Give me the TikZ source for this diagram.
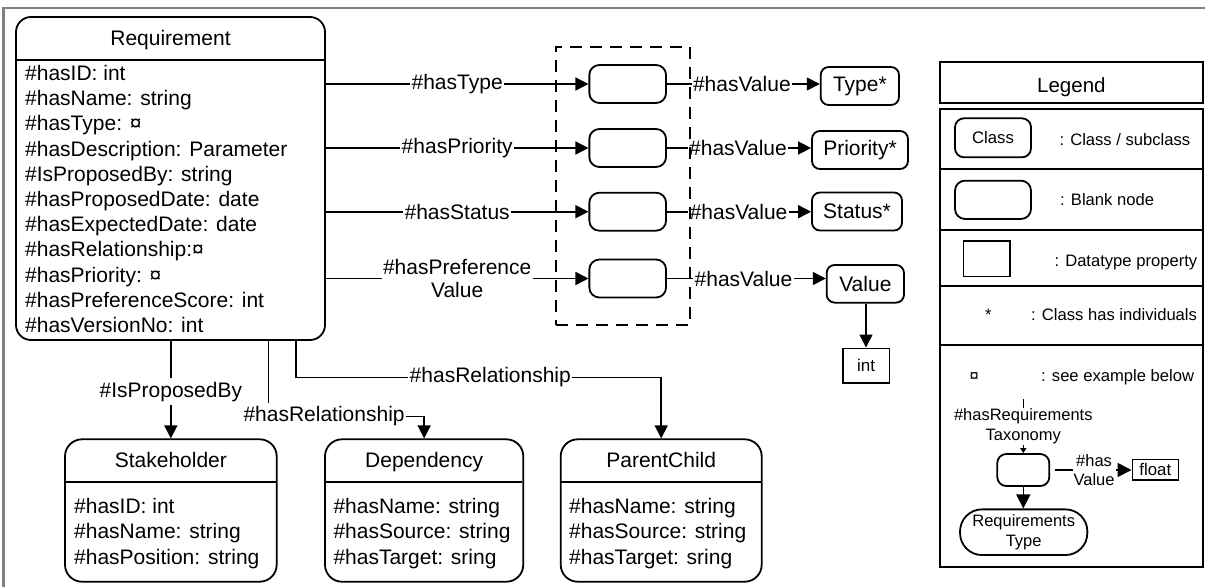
\documentclass[tikz,border=0pt]{standalone}
\usepackage{fontspec}
\setmainfont{Liberation Sans}
\usetikzlibrary{arrows.meta}
\newcommand{\myfs}[2]{\fontsize{#1pt}{#2pt}\selectfont}
\definecolor{framegray}{RGB}{128,128,128}
\tikzset{
 bx/.style={draw, line width=1.8pt, inner sep=0pt},
 cls/.style={bx, rounded corners=15pt},
 blank/.style={bx, rounded corners=10pt, minimum width=76.7pt, minimum height=38pt},
 valbox/.style={bx, rounded corners=8pt, minimum height=38pt, font=\myfs{21}{25}},
 dt/.style={bx, line width=1.6pt},
 sep/.style={line width=1.8pt},
 conn/.style={line width=1.6pt},
 arr/.style={conn, -{Triangle[length=13pt,width=13pt]}},
 lbl/.style={fill=white, inner xsep=1.5pt, inner ysep=4pt, font=\myfs{21}{23.5}, align=center},
 attr/.style={inner sep=0pt, anchor=base west, font=\myfs{21}{25}},
 ttl/.style={inner sep=0pt, anchor=base, font=\myfs{21}{25}},
 leg/.style={inner sep=0pt, anchor=base west, font=\myfs{16.6}{20}},
 sm/.style={fill=white, inner xsep=1pt, inner ysep=1pt, font=\myfs{16.5}{19.5}, align=center},
}
\begin{document}
\begin{tikzpicture}[x=1pt,y=-1pt]
\useasboundingbox (0,0) rectangle (1205,587);
\draw[framegray, line width=2.6pt] (3.7,587) -- (3.7,8) -- (1205,8);

% Requirement class
\node[cls, minimum width=309pt, minimum height=323pt] (req) at (170.5,178.5) {};
\draw[sep] (req.north west) ++(0,44) -- ++(309,0);
\node[ttl] (reqT) at (170.5,45.5) {Requirement};
\foreach \txt [count=\i] in {\#hasID: int, \#hasName: string, \#hasType: ¤,
  \#hasDescription: Parameter, \#IsProposedBy: string, \#hasProposedDate: date,
  \#hasExpectedDate: date, \#hasRelationship:¤, \#hasPriority: ¤,
  \#hasPreferenceScore: int, \#hasVersionNo: int}
  \node[attr] (ra\i) at (25,55.3+25.2*\i) {\txt};

% blank nodes
\node[blank] (b1) at (627.7,84) {};
\node[blank] (b2) at (627.7,148) {};
\node[blank] (b3) at (627.7,211.7) {};
\node[blank] (b4) at (627.7,278.5) {};

% value classes
\node[valbox, minimum width=78.3pt] (ty) at (859.85,86) {Type*};
\node[valbox, minimum width=96pt] (pr) at (860,150) {Priority*};
\node[valbox, minimum width=90pt] (st) at (857,211.5) {Status*};
\node[valbox, minimum width=77.3pt, minimum height=37.7pt] (va) at (865.35,283.8) {Value};
\node[dt, minimum width=46.6pt, minimum height=34.4pt, font=\myfs{17}{20}] (in) at (866,365.5) {int};

% connectors requirement -> blank
\draw[arr] (req.east |- b1) -- node[lbl]{\#hasType} (b1);
\draw[arr] (req.east |- b2) -- node[lbl]{\#hasPriority} (b2);
\draw[arr] (req.east |- b3) -- node[lbl]{\#hasStatus} (b3);
\draw[arr] (req.east |- b4) -- node[lbl]{\#hasPreference\\Value} (b4);

% blank -> value classes
\draw[arr] (b1) -- node[lbl,pos=0.49]{\#hasValue} (b1 -| ty.west);
\draw[arr] (b2) -- node[lbl,pos=0.493]{\#hasValue} (b2 -| pr.west);
\draw[arr] (b3) -- node[lbl,pos=0.497]{\#hasValue} (b3 -| st.west);
\draw[arr] (b4) -- node[lbl,pos=0.482]{\#hasValue} (b4 -| va.west);
\draw[arr] (va.south -| in.north) -- (in.north);

% dashed group
\node[draw, line width=2pt, dash pattern=on 12pt off 8pt, inner sep=0pt,
      minimum width=134pt, minimum height=278.3pt] (grp) at (623,185.85) {};

% bottom classes
\node[cls, rounded corners=17pt, minimum width=211.7pt, minimum height=142.4pt] (sh) at (170.85,510.5) {};
\draw[sep] (sh.north west) ++(0,43.4) -- ++(211.7,0);
\node[ttl] (shT) at (170.85,467.5) {Stakeholder};
\node[attr] (sh1) at (74,513.5) {\#hasID: int};
\node[attr] (sh2) at (74,538.8) {\#hasName: string};
\node[attr] (sh3) at (74,564.1) {\#hasPosition: string};

\node[cls, rounded corners=17pt, minimum width=198.3pt, minimum height=142.4pt] (dep) at (424.15,510.5) {};
\draw[sep] (dep.north west) ++(0,43.4) -- ++(198.3,0);
\node[ttl] (depT) at (424.15,467.5) {Dependency};
\node[attr] (dp1) at (333.3,513.5) {\#hasName: string};
\node[attr] (dp2) at (333.3,538.8) {\#hasSource: string};
\node[attr] (dp3) at (333.3,564.1) {\#hasTarget: sring};

\node[cls, rounded corners=17pt, minimum width=201pt, minimum height=142.4pt] (pc) at (661.2,510.5) {};
\draw[sep] (pc.north west) ++(0,43.4) -- ++(201,0);
\node[ttl] (pcT) at (661.2,467.5) {ParentChild};
\node[attr] (pc1) at (569,513.5) {\#hasName: string};
\node[attr] (pc2) at (569,538.8) {\#hasSource: string};
\node[attr] (pc3) at (569,564.1) {\#hasTarget: sring};

% bottom connectors
\draw[arr] (req.south -| sh.north) -- node[lbl,pos=0.52]{\#IsProposedBy} (sh.north);
\path (dep.north) ++(0,-22) coordinate (c2);
\draw[arr] ([xshift=97.8pt]req.south) |- node[lbl,pos=0.679]{\#hasRelationship} (c2) -- (dep.north);
\path (pc.north) ++(0,-61) coordinate (c3);
\draw[arr] ([xshift=125.5pt]req.south) |- node[lbl,pos=0.766]{\#hasRelationship} (c3) -- (pc.north);

% legend
\node[bx, minimum width=262.7pt, minimum height=41pt] (lgT) at (1071.35,82.8) {};
\node[ttl, font=\myfs{20.5}{24}] (lgTx) at (1071.35,92.3) {Legend};
\node[bx, minimum width=262.7pt, minimum height=457.4pt] (lg) at (1071.35,338) {};
\foreach \d in {60.7,121.4,177.4,236.7}
  \draw[sep] (lg.north west) ++(0,\d) -- ++(262.7,0);

\node[cls, rounded corners=9pt, minimum width=76pt, minimum height=39pt, font=\myfs{16.7}{20}] (lgC) at (993,137.8) {Class};
\node[leg] (lgCt) at (1059.3,145.2) {: Class / subclass};
\node[blank, minimum width=76pt, minimum height=38.3pt] (lgB) at (993,199.8) {};
\node[leg] (lgBt) at (1060,205.3) {: Blank node};
\node[dt, minimum width=46.7pt, minimum height=35.7pt] (lgD) at (986.7,258.8) {};
\node[leg] (lgDt) at (1054.3,266) {: Datatype property};
\node[leg, anchor=base] (lgS) at (988.3,320.3) {*};
\node[leg] (lgSt) at (1031,320.3) {: Class has individuals};
\node[leg, anchor=base] (lgX) at (974.3,381.6) {¤};
\node[leg] (lgXt) at (1041,381.6) {: see example below};

% legend example
\node[blank, rounded corners=9pt, minimum width=52pt, minimum height=32pt] (lb) at (1023.3,470) {};
\node[dt, minimum width=46pt, minimum height=20.7pt, font=\myfs{16.8}{20}] (fl) at (1155.3,469.7) {float};
\node[cls, rounded corners=22pt, minimum width=127.3pt, minimum height=45.7pt, align=center, font=\myfs{16.5}{20}] (rt) at (1023.7,532.2) {Requirements\\Type};
\path (lb.north) ++(0,-54) coordinate (tk);
\draw[conn, line width=1.4pt, -{Triangle[length=5pt,width=6pt]}] (tk) -- node[sm]{\#hasRequirements\\Taxonomy} (lb.north);
\draw[conn, -{Triangle[length=14pt,width=14pt]}, shorten <=5pt] (lb) -- node[sm,pos=0.54]{\#has\\Value} (lb -| fl.west);
\draw[conn, -{Triangle[length=14pt,width=14pt]}] (lb.south) -- (lb.south |- rt.north);
\end{tikzpicture}
\end{document}
